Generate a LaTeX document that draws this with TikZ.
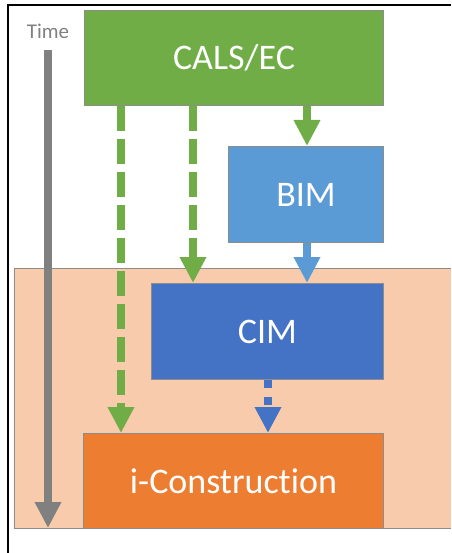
\documentclass[tikz,border=0pt]{standalone}
\usepackage{fontspec}
\setmainfont[Ligatures={NoCommon,NoRare}]{Carlito}
\usetikzlibrary{arrows.meta,calc}
\definecolor{calsgreen}{HTML}{70AD47}
\definecolor{bimblue}{HTML}{5B9BD5}
\definecolor{cimblue}{HTML}{4472C4}
\definecolor{iconorange}{HTML}{ED7D31}
\definecolor{bandpeach}{HTML}{F8CBAD}
\definecolor{timegray}{HTML}{808080}
\definecolor{edgegray}{HTML}{8C8C8C}
\tikzset{
  stage/.style={draw=edgegray, line width=1pt, text=white, font=\fontsize{36}{40}\selectfont,
    inner sep=0pt, anchor=north west},
  flow/.style={line width=8pt, -{Triangle[width=25pt,length=26pt]}},
  dashflow/.style={flow, dash pattern=on 25pt off 8pt},
  dotflow/.style={flow, dash pattern=on 8pt off 9pt},
}
\begin{document}
\begin{tikzpicture}[x=1pt,y=-1pt]
  \useasboundingbox (0,0) rectangle (451,553);
  % outer frame (left and top)
  \draw[line width=2pt] (8,553) -- (8,5) -- (451,5);
  % highlighted band
  \fill[bandpeach] (14,268) rectangle (451,528);
  \draw[edgegray, line width=1pt] (451,268) -- (14,268) -- (14,528) -- (451,528);
  \node[inner sep=0pt, anchor=south west] (band) at (14,528) {};
  % stages
  \node[stage, fill=calsgreen, minimum width=299pt, minimum height=95pt] (cals) at (84,10) {CALS/EC};
  \node[stage, fill=bimblue, minimum width=155pt, minimum height=96pt] (bim) at (228,146) {BIM};
  \node[stage, fill=cimblue, minimum width=232pt, minimum height=96pt] (cim) at (151,283) {CIM};
  \node[stage, fill=iconorange, minimum width=300pt, minimum height=95pt] (icon) at (83,433) {i-Construction};
  % time axis
  \node[text=timegray, font=\fontsize{21}{24}\selectfont, inner sep=0pt] (time) at (48,31) {Time};
  \draw[flow, timegray] (time.south |- 0,50) -- (time.south |- band.south);
  % connectors
  \draw[flow, calsgreen] (cals.south -| 307,0) -- (bim.north -| 307,0);
  \draw[dashflow, calsgreen] (cals.south -| 193,0) -- (cim.north -| 193,0);
  \draw[dashflow, calsgreen] (cals.south -| 121,0) -- (icon.north -| 121,0);
  \draw[flow, bimblue] (bim.south -| 307,0) -- (cim.north -| 307,0);
  \draw[dotflow, cimblue] (cim.south -| 268,0) -- (icon.north -| 268,0);
\end{tikzpicture}
\end{document}
